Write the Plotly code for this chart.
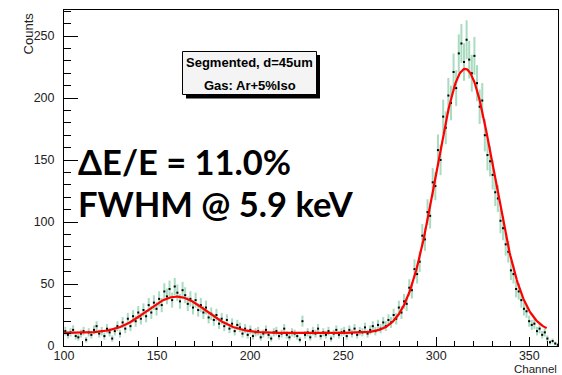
import numpy as np
import plotly.graph_objects as go

# ---- data ----
bin_start = 100.0
bin_width = 1.4
counts = [
    12, 9, 11, 13, 8, 7, 10, 12, 5, 11,
    9, 13, 16, 10, 12, 8, 14, 11, 6, 12,
    16, 10, 19, 14, 22, 16, 24, 20, 27, 22,
    29, 24, 33, 27, 35, 30, 38, 33, 44, 40,
    46, 37, 48, 43, 36, 45, 41, 34, 38, 31,
    37, 29, 33, 27, 31, 23, 26, 21, 25, 18,
    22, 16, 21, 14, 18, 12, 17, 15, 10, 14,
    9, 13, 8, 11, 12, 7, 10, 13, 9, 6,
    11, 12, 8, 10, 14, 9, 7, 11, 10, 8,
    5, 20, 9, 11, 7, 12, 10, 14, 8, 11,
    9, 12, 6, 10, 13, 9, 11, 12, 8, 13,
    10, 14, 9, 12, 11, 15, 10, 13, 16, 12,
    17, 14, 19, 16, 21, 19, 25, 22, 31, 27,
    36, 34, 47, 45, 62, 58, 68, 89, 86, 108,
    105, 132, 129, 158, 150, 185, 176, 202, 196, 221,
    208, 236, 244, 229, 247, 231, 220, 234, 212, 193,
    198, 170, 154, 149, 138, 124, 119, 101, 95, 82,
    76, 61, 58, 46, 44, 37, 30, 28, 20, 17,
    18, 12, 14, 9, 11, 6, 3, 4, 2, 1,
]

# fit parameters (constant background + two gaussians)
fit_bg = 10.5
fit_amp1, fit_mean1, fit_sigma1 = 29.3, 160.5, 16.0
fit_amp2, fit_mean2, fit_sigma2 = 213.0, 315.5, 15.5
fit_range = (100.0, 359.3)

x_ticks = [100, 150, 200, 250, 300, 350]
y_ticks = [0, 50, 100, 150, 200, 250]

box_line1 = "Segmented, d=45um"
box_line2 = "Gas: Ar+5%Iso"
big_line1 = "ΔE/E = 11.0%"
big_line2 = "FWHM @ 5.9 keV"

# ---- derived ----
counts_arr = np.array(counts, dtype=float)
centers = bin_start + bin_width * (np.arange(len(counts)) + 0.5)
errors = np.sqrt(counts_arr)

xf = np.linspace(fit_range[0], fit_range[1], 600)
yf = (fit_bg
      + fit_amp1 * np.exp(-(xf - fit_mean1) ** 2 / (2 * fit_sigma1 ** 2))
      + fit_amp2 * np.exp(-(xf - fit_mean2) ** 2 / (2 * fit_sigma2 ** 2)))

fig = go.Figure()
fig.add_trace(go.Scatter(
    x=centers, y=counts_arr, mode="markers",
    marker=dict(symbol="square", size=2, color="black",
                line=dict(width=0)),
    error_y=dict(type="data", array=errors, visible=True, thickness=2,
                 width=0, color="rgba(110,195,150,0.6)"),
    showlegend=False, cliponaxis=True,
))
fig.add_trace(go.Scatter(
    x=xf, y=yf, mode="lines", line=dict(color="#ff0000", width=2.2),
    showlegend=False,
))

tick_font = dict(family="Liberation Sans, Arial, sans-serif", size=12.5, color="#222")

fig.update_layout(
    width=562, height=375, autosize=False,
    margin=dict(l=64, r=4, t=10, b=29),
    paper_bgcolor="white", plot_bgcolor="white",
    xaxis=dict(range=[100, 365.4], tickvals=x_ticks, ticks="inside",
               ticklen=9, tickwidth=1, tickcolor="black",
               minor=dict(dtick=10, ticks="inside", ticklen=5, tickcolor="black"),
               showgrid=False, zeroline=False, showline=True, linecolor="black",
               linewidth=1, mirror=True, tickfont=tick_font, ticklabelstandoff=-2),
    yaxis=dict(range=[0, 271], tickvals=y_ticks, ticks="inside",
               ticklen=14, tickwidth=1, tickcolor="black",
               minor=dict(dtick=10, ticks="inside", ticklen=7, tickcolor="black"),
               showgrid=False, zeroline=False, showline=True, linecolor="black",
               linewidth=1, mirror=True, tickfont=tick_font, ticklabelstandoff=6),
)

# axis titles
fig.add_annotation(text="Counts", xref="paper", yref="paper",
                   x=-0.072, y=1.0, xanchor="center", yanchor="top",
                   textangle=-90, showarrow=False,
                   font=dict(family="Liberation Sans, Arial", size=13, color="#222"))
fig.add_annotation(text="Channel", xref="paper", yref="paper",
                   x=1.0, y=(346 - 369) / 336, xanchor="right", yanchor="middle",
                   showarrow=False, borderpad=0,
                   font=dict(family="Liberation Sans, Arial", size=11.5, color="#222"))

# pave text box with shadow
fig.add_shape(type="rect", xref="paper", yref="paper",
              x0=(186 - 64) / 494, x1=(320 - 64) / 494,
              y0=(346 - 98.5) / 336, y1=(346 - 55) / 336,
              fillcolor="black", line=dict(width=0), layer="above")
fig.add_shape(type="rect", xref="paper", yref="paper",
              x0=(182.5 - 64) / 494, x1=(316.5 - 64) / 494,
              y0=(346 - 94.5) / 336, y1=(346 - 51.5) / 336,
              fillcolor="#f4f4f4", line=dict(width=1, color="black"), layer="above")
box_font = dict(family="Liberation Sans, Arial", size=13, color="black")
fig.add_annotation(text="<b>%s</b>" % box_line1, xref="paper", yref="paper",
                   x=(249.5 - 64) / 494, y=(346 - 62) / 336,
                   xanchor="center", yanchor="middle", showarrow=False, font=box_font)
fig.add_annotation(text="<b>%s</b>" % box_line2, xref="paper", yref="paper",
                   x=(249.5 - 64) / 494, y=(346 - 85) / 336,
                   xanchor="center", yanchor="middle", showarrow=False, font=box_font)

big_font = dict(family="Lato, sans-serif", size=34.5, color="black")
fig.add_annotation(text="<b>%s</b>" % big_line1, xref="paper", yref="paper",
                   x=(76 - 64) / 494, y=(346 - 162) / 336,
                   xanchor="left", yanchor="middle", showarrow=False, font=big_font)
fig.add_annotation(text="<b>%s</b>" % big_line2, xref="paper", yref="paper",
                   x=(76 - 64) / 494, y=(346 - 203) / 336,
                   xanchor="left", yanchor="middle", showarrow=False, font=big_font)

fig.write_html("out.html")
